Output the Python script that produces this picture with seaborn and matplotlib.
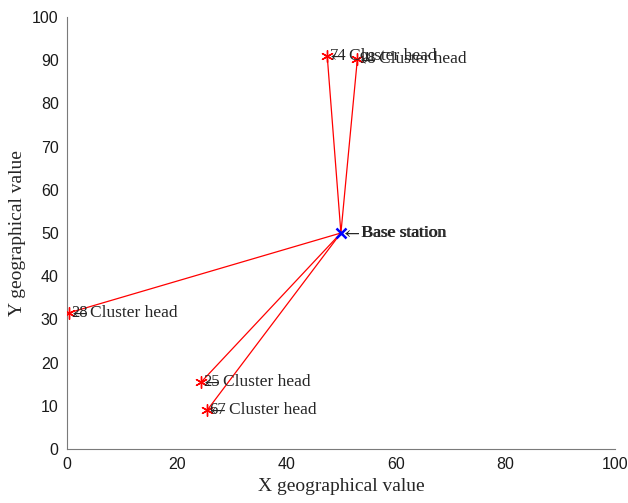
import pandas as pd
import seaborn as sns
import matplotlib.pyplot as plt

# Node positions
head_ids = [74, 98, 28, 25, 67]
head_x = [47.5, 53.0, 0.3, 24.5, 25.6]
head_y = [91.0, 90.2, 31.5, 15.5, 9.0]
base_x, base_y = 50.0, 50.0

sns.set_style('white')
plt.rcParams['font.family'] = ['Liberation Sans', 'DejaVu Sans']
plt.rcParams['mathtext.fontset'] = 'stix'
serif = ['Liberation Serif', 'DejaVu Serif']

# one line segment per cluster head, from base station to head
rows = []
for i, hx, hy in zip(head_ids, head_x, head_y):
    rows.append({'id': i, 'x': base_x, 'y': base_y})
    rows.append({'id': i, 'x': hx, 'y': hy})
seg = pd.DataFrame(rows)
heads = pd.DataFrame({'id': head_ids, 'x': head_x, 'y': head_y})

fig = plt.figure(figsize=(6.28, 5.03), dpi=100)
ax = fig.add_axes([0.1067, 0.1074, 0.8723, 0.8588])

sns.lineplot(data=seg, x='x', y='y', units='id', estimator=None, sort=False,
             color='red', linewidth=0.9, ax=ax)
sns.scatterplot(data=heads, x='x', y='y', marker=(6, 2, 0), color='red', s=70,
                linewidth=1.0, ax=ax, zorder=3)
ax.plot([base_x], [base_y], marker='x', color='blue', markersize=7,
        markeredgewidth=1.8, linestyle='none', zorder=4)

fs = 12.5
for i, hx, hy in zip(head_ids, head_x, head_y):
    ax.text(hx, hy, r'$\leftarrow$', fontsize=fs, va='center', ha='left')
    ax.text(hx + 3.9, hy, 'Cluster head', family=serif, fontsize=fs,
            va='center', ha='left')
    ax.text(hx + 0.4, hy, str(i), family=serif, fontsize=fs - 0.5,
            va='center', ha='left')
for dx in (0.0, 0.08):
    ax.text(base_x + dx, base_y, r'$\leftarrow$', fontsize=fs,
            va='center', ha='left')
    ax.text(base_x + 3.7 + dx, base_y, 'Base station', family=serif,
            fontsize=fs, va='center', ha='left')

ax.set_xlim(0, 100)
ax.set_ylim(0, 100)
ax.set_xticks(range(0, 101, 20))
ax.set_yticks(range(0, 101, 10))
ax.tick_params(direction='in', length=4, width=0.8, colors='#7a7a7a',
               labelsize=11.5, labelcolor='#1a1a1a', pad=6)
for s in ['top', 'right']:
    ax.spines[s].set_visible(False)
for s in ['left', 'bottom']:
    ax.spines[s].set_color('#7a7a7a')
    ax.spines[s].set_linewidth(0.8)
ax.set_xlabel('X geographical value', family=serif, fontsize=14)
ax.set_ylabel('Y geographical value', family=serif, fontsize=14)

plt.savefig('out.png', dpi=100)
